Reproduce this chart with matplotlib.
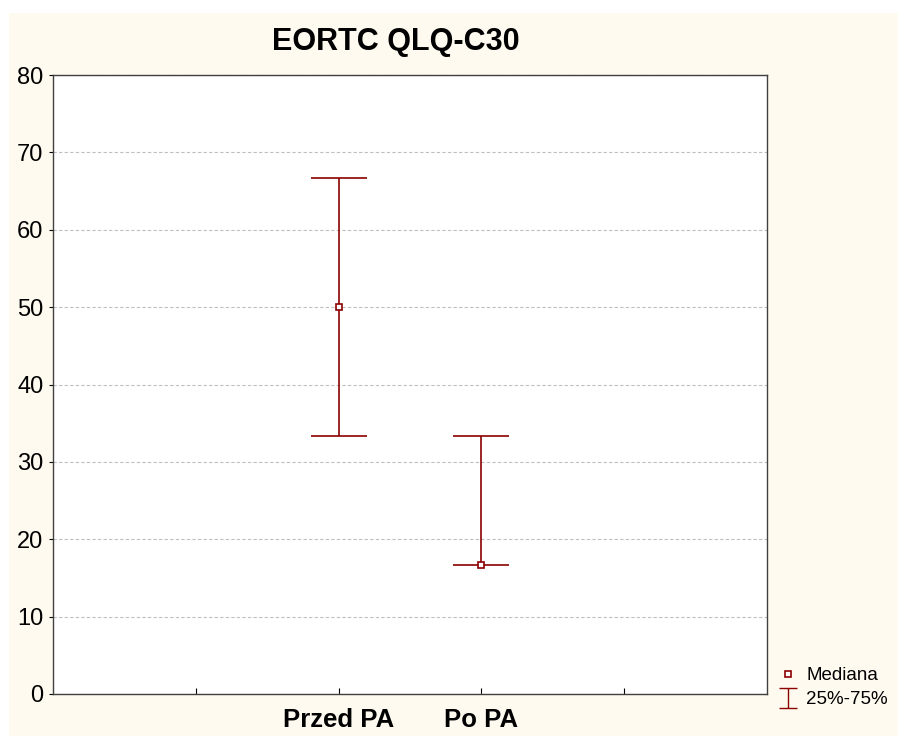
import matplotlib.pyplot as plt
from matplotlib.lines import Line2D
from matplotlib.patches import Rectangle
from matplotlib.path import Path

plt.rcParams['font.family'] = ['Liberation Sans', 'DejaVu Sans']

# values
groups = ['Przed PA', 'Po PA']
medians = [50.0, 16.67]
q25 = [33.33, 16.67]
q75 = [66.67, 33.33]

dark_red = '#8b0000'
cream = '#fffaf0'

fig = plt.figure(figsize=(8.98, 7.36), dpi=100)
fig.patch.set_facecolor('white')
fig.patches.append(Rectangle((9 / 898, 0), 1, 1 - 13 / 736, transform=fig.transFigure,
                             facecolor=cream, edgecolor='none', zorder=-10))

ax = fig.add_axes([53 / 898, 42 / 736, 714 / 898, 619 / 736])
ax.set_facecolor('white')

xpos = [2, 3]
lower = [m - lo for m, lo in zip(medians, q25)]
upper = [hi - m for m, hi in zip(medians, q75)]
ax.errorbar(xpos, medians, yerr=[lower, upper], fmt='none', ecolor=dark_red,
            elinewidth=1.2, capsize=20.5, capthick=1.2, zorder=3)
ax.plot(xpos, medians, 's', markersize=5, markerfacecolor='white',
        markeredgecolor=dark_red, markeredgewidth=1.2, linestyle='none', zorder=4)

ax.set_xlim(0, 5)
ax.set_ylim(0, 80)
ax.set_xticks([1, 2, 3, 4])
ax.set_xticklabels([''] + groups + [''], fontsize=18.5, fontweight='bold')
ax.set_yticks(range(0, 81, 10))
ax.tick_params(axis='y', labelsize=17, direction='out', length=3, pad=4)
ax.tick_params(axis='x', direction='in', length=4, pad=10)
ax.yaxis.grid(True, linestyle=(0, (3, 2)), color='#bfbfbf', linewidth=0.8)
ax.set_axisbelow(True)
for s in ax.spines.values():
    s.set_color('#404040')
    s.set_linewidth(1.0)

fig.text(396 / 898, 1 - 42 / 736, 'EORTC QLQ-C30', fontsize=22,
         fontweight='bold', ha='center', va='center')

# legend
ibar = Path([(-0.45, 0.55), (0.45, 0.55), (0, 0.55), (0, -0.55), (-0.45, -0.55), (0.45, -0.55)],
            [Path.MOVETO, Path.LINETO, Path.MOVETO, Path.LINETO, Path.MOVETO, Path.LINETO])
h_med = Line2D([], [], marker='s', markersize=5, markerfacecolor='white',
               markeredgecolor=dark_red, markeredgewidth=1.2, linestyle='none')
h_iqr = Line2D([], [], marker=ibar, markersize=15, markerfacecolor='none',
               markeredgecolor=dark_red, markeredgewidth=1.0, linestyle='none')
fig.legend([h_med, h_iqr], ['Mediana', '25%-75%'], loc='lower left',
           bbox_to_anchor=(762 / 898, 11 / 736), frameon=False, fontsize=13.5,
           handlelength=1.0, handletextpad=0.45, labelspacing=0.35)

fig.savefig('out.png', dpi=100, facecolor=fig.get_facecolor())
